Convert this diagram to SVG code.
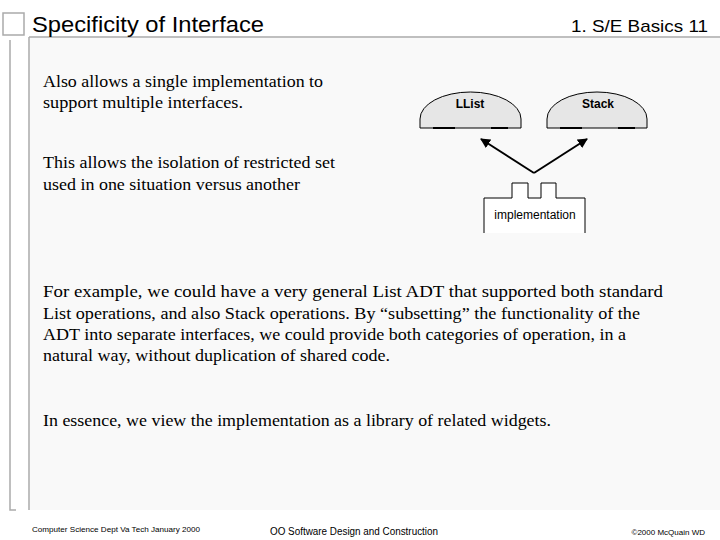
<svg xmlns="http://www.w3.org/2000/svg" width="720" height="540" viewBox="0 0 720 540">
<style>
.frame{fill:none;stroke:#aaa;stroke-width:1.5}
.sans{font-family:"Liberation Sans",Arial,sans-serif;fill:#000}
.serif{font-family:"Liberation Serif","Times New Roman",serif;font-size:17px;fill:#000}
.dome{fill:#e6e6e6;stroke:#000;stroke-width:1}
.conn{stroke:#000;stroke-width:2;fill:none;marker-end:url(#ah)}
</style>
<defs><marker id="ah" viewBox="0 0 10 10" refX="9" refY="5" markerWidth="5" markerHeight="5" orient="auto"><path d="M0,0L10,5L0,10z" fill="#000"/></marker></defs>
<rect width="720" height="540" fill="#fff"/>
<rect x="30" y="38" width="690" height="472" fill="#f9f9f9"/>
<rect class="frame" x="3" y="13" width="21" height="22"/>
<path class="frame" d="M29,37H720M29,37V510M10,40V510H16"/>
<text class="sans" x="32" y="32" font-size="22" textLength="232" lengthAdjust="spacingAndGlyphs">Specificity of Interface</text>
<text class="sans" x="571" y="32" font-size="17" textLength="137" lengthAdjust="spacingAndGlyphs">1. S/E Basics  11</text>
<text class="serif" x="43" y="87" textLength="280" lengthAdjust="spacingAndGlyphs">Also allows a single implementation to</text>
<text class="serif" x="43" y="108" textLength="200" lengthAdjust="spacingAndGlyphs">support multiple interfaces.</text>
<text class="serif" x="43" y="168" textLength="292" lengthAdjust="spacingAndGlyphs">This allows the isolation of restricted set</text>
<text class="serif" x="43" y="190" textLength="257" lengthAdjust="spacingAndGlyphs">used in one situation versus another</text>
<text class="serif" x="43" y="297" textLength="620" lengthAdjust="spacingAndGlyphs">For example, we could have a very general List ADT that supported both standard</text>
<text class="serif" x="43" y="319" textLength="597" lengthAdjust="spacingAndGlyphs">List operations, and also Stack operations.  By “subsetting” the functionality of the</text>
<text class="serif" x="43" y="340" textLength="583" lengthAdjust="spacingAndGlyphs">ADT into separate interfaces, we could provide both categories of operation, in a</text>
<text class="serif" x="43" y="361" textLength="347" lengthAdjust="spacingAndGlyphs">natural way, without duplication of shared code.</text>
<text class="serif" x="43" y="426" textLength="508" lengthAdjust="spacingAndGlyphs">In essence, we view the implementation as a library of related widgets.</text>
<g id="llist">
<path class="dome" d="M420,128V119A50.5,27 0 0 1 521,119V128Z"/>
<path d="M433,128H455M491,128H508" stroke="#000" stroke-width="2"/>
<text class="sans" x="470" y="108" font-size="12" font-weight="bold" text-anchor="middle">LList</text>
</g>
<g id="stack">
<path class="dome" d="M547,128V119A50,27 0 0 1 647,119V128Z"/>
<path d="M560,128H582M618,128H635" stroke="#000" stroke-width="2"/>
<text class="sans" x="598" y="108" font-size="12" font-weight="bold" text-anchor="middle">Stack</text>
</g>
<g id="implementation">
<path d="M484,233V198H512V183H528V198H541V183H556V198H585V233" fill="#fff" stroke="#000" stroke-width="1"/>
<text class="sans" x="535" y="219" font-size="12" text-anchor="middle">implementation</text>
</g>
<g id="connectors">
<path class="conn" d="M534,173L481,139"/>
<path class="conn" d="M534,173L587,139"/>
</g>
<text class="sans" x="32" y="532" font-size="8" fill="#333" textLength="168" lengthAdjust="spacingAndGlyphs">Computer Science Dept Va Tech January 2000</text>
<text class="sans" x="270" y="535" font-size="10" textLength="168" lengthAdjust="spacingAndGlyphs">OO Software Design and Construction</text>
<text class="sans" x="705" y="535" font-size="8" text-anchor="end">©2000  McQuain WD</text>
</svg>
